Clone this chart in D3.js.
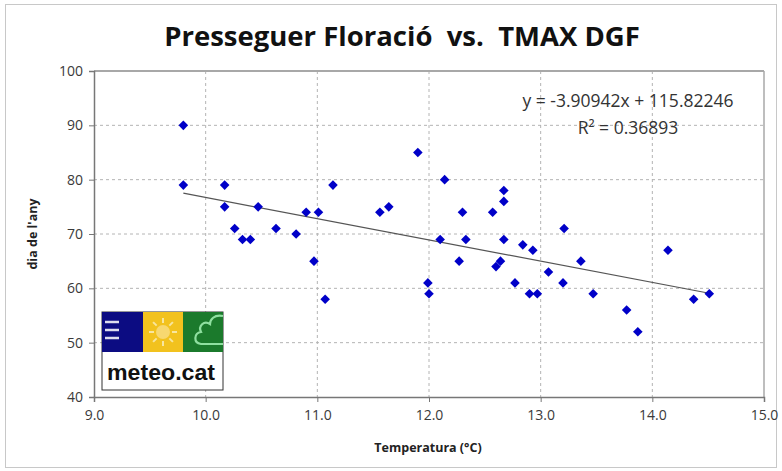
<!DOCTYPE html>
<html>
<head>
<meta charset="utf-8">
<script src="https://cdn.jsdelivr.net/npm/d3@7"></script>
<style>
body { margin: 0; background: #fff; }
text { font-family: "Open Sans", "Liberation Sans", sans-serif; }
</style>
</head>
<body>
<div id="chart"></div>
<script>
// temperatura (°C) i dia de l'any de floració
var temps = [9.80, 9.80, 10.17, 10.17, 10.47, 10.26, 10.33, 10.40, 10.63, 10.81,
    10.90, 11.01, 11.14, 10.97, 11.07, 11.90, 11.56, 11.64, 12.14, 12.67,
    12.67, 12.30, 12.57, 13.21, 12.10, 12.33, 12.67, 12.84, 12.93, 12.27,
    12.60, 12.64, 13.07, 12.77, 13.20, 11.99, 12.00, 12.90, 12.97, 13.36,
    13.47, 14.14, 13.77, 13.87, 14.37, 14.51];
var dies = [90, 79, 79, 75, 75, 71, 69, 69, 71, 70,
    74, 74, 79, 65, 58, 85, 74, 75, 80, 78,
    76, 74, 74, 71, 69, 69, 69, 68, 67, 65,
    64, 65, 63, 61, 61, 61, 59, 59, 59, 65,
    59, 67, 56, 52, 58, 59];
var xTicks = [9, 10, 11, 12, 13, 14, 15];
var yTicks = [40, 50, 60, 70, 80, 90, 100];
var slope = -3.90942, intercept = 115.82246, r2 = 0.36893;

function drawChart() {
    var width = 782, height = 471;
    var svg = d3.select("#chart").append("svg")
        .attr("width", width)
        .attr("height", height);

    svg.append("rect")
        .attr("x", 5.5).attr("y", 4.5)
        .attr("width", 771).attr("height", 463)
        .style("fill", "#fff").style("stroke", "#c8c8c8");

    var pl = 94, pr = 764, pt = 71, pb = 397;
    var x = d3.scaleLinear().domain([9, 15]).range([pl, pr]);
    var y = d3.scaleLinear().domain([40, 100]).range([pb, pt]);

    // grid
    svg.append("g").selectAll("line").data(xTicks.slice(1, -1)).enter().append("line")
        .attr("x1", function(d) { return x(d); }).attr("x2", function(d) { return x(d); })
        .attr("y1", pt).attr("y2", pb)
        .style("stroke", "#b4b4b4").style("stroke-dasharray", "3,3");
    svg.append("g").selectAll("line").data(yTicks.slice(1, -1)).enter().append("line")
        .attr("x1", pl).attr("x2", pr)
        .attr("y1", function(d) { return y(d); }).attr("y2", function(d) { return y(d); })
        .style("stroke", "#b4b4b4").style("stroke-dasharray", "3,3");

    // plot border
    svg.append("line").attr("x1", pl).attr("x2", pr).attr("y1", pt).attr("y2", pt)
        .style("stroke", "#a8a8a8").style("stroke-width", 2);
    svg.append("line").attr("x1", pr).attr("x2", pr).attr("y1", pt).attr("y2", pb)
        .style("stroke", "#a8a8a8").style("stroke-width", 1.5);

    // axes
    var xAxis = svg.append("g")
        .attr("transform", "translate(0," + pb + ")")
        .call(d3.axisBottom(x).tickValues(xTicks).tickFormat(d3.format(".1f")).tickSizeOuter(0).tickSize(5));
    var yAxis = svg.append("g")
        .attr("transform", "translate(" + pl + ",0)")
        .call(d3.axisLeft(y).tickValues(yTicks).tickSizeOuter(0).tickSize(5));
    [xAxis, yAxis].forEach(function(a) {
        a.select(".domain").style("stroke", "#777").style("stroke-width", 1.5);
        a.selectAll(".tick line").style("stroke", "#777");
        a.selectAll(".tick text").style("font-size", "14px").style("fill", "#3a3a3a")
            .style("font-family", "'Liberation Sans Narrow', 'Open Sans', sans-serif");
    });
    xAxis.selectAll(".tick text").attr("dy", "1.1em");
    yAxis.selectAll(".tick text").attr("x", -11);

    // trend line
    var tx = d3.extent(temps);
    svg.append("line")
        .attr("x1", x(tx[0])).attr("y1", y(slope * tx[0] + intercept))
        .attr("x2", x(tx[1])).attr("y2", y(slope * tx[1] + intercept))
        .style("stroke", "#555").style("stroke-width", 1.2);

    // points
    svg.append("g").selectAll("path").data(temps).enter().append("path")
        .attr("d", d3.symbol().type(d3.symbolSquare).size(46))
        .attr("transform", function(d, i) { return "translate(" + x(d) + "," + y(dies[i]) + ") rotate(45)"; })
        .style("fill", "#0000c8");

    // equation
    svg.append("text").attr("x", 628).attr("y", 107).attr("text-anchor", "middle")
        .style("font-size", "17.5px").style("fill", "#333")
        .text("y = " + slope.toFixed(5) + "x + " + intercept.toFixed(5));
    svg.append("text").attr("x", 628).attr("y", 134).attr("text-anchor", "middle")
        .style("font-size", "17.5px").style("fill", "#333")
        .text("R\u00b2 = " + r2.toFixed(5));

    // titles
    svg.append("text").attr("x", 402).attr("y", 46).attr("text-anchor", "middle")
        .style("font-size", "27.5px").style("font-weight", "bold").style("fill", "#111")
        .style("white-space", "pre")
        .text("Presseguer Floració  vs.  TMAX DGF");
    svg.append("text").attr("x", 428).attr("y", 452).attr("text-anchor", "middle")
        .style("font-size", "12.5px").style("font-weight", "bold").style("fill", "#222")
        .text("Temperatura (°C)");
    svg.append("text").attr("transform", "translate(37,234) rotate(-90)").attr("text-anchor", "middle")
        .style("font-size", "12.5px").style("font-weight", "bold").style("fill", "#222")
        .text("dia de l'any");

    // logo meteo.cat
    var logo = svg.append("g").attr("transform", "translate(102,312)");
    logo.append("rect").attr("width", 121).attr("height", 78).style("fill", "#fff").style("stroke", "#333");
    logo.append("rect").attr("width", 41).attr("height", 40).style("fill", "#0c0c82");
    logo.append("rect").attr("x", 41).attr("width", 40).attr("height", 40).style("fill", "#f2c21e");
    logo.append("rect").attr("x", 81).attr("width", 40).attr("height", 40).style("fill", "#1b7a2c");
    [10, 18, 26].forEach(function(d) {
        logo.append("line").attr("x1", 3).attr("x2", 17).attr("y1", d).attr("y2", d)
            .style("stroke", "#dde").style("stroke-width", 2.5);
    });
    logo.append("circle").attr("cx", 61).attr("cy", 20).attr("r", 7).style("fill", "#f7d870");
    d3.range(8).forEach(function(i) {
        var a = i * Math.PI / 4;
        logo.append("line")
            .attr("x1", 61 + Math.cos(a) * 9).attr("y1", 20 + Math.sin(a) * 9)
            .attr("x2", 61 + Math.cos(a) * 14).attr("y2", 20 + Math.sin(a) * 14)
            .style("stroke", "#f7e6a0").style("stroke-width", 2);
    });
    logo.append("path")
        .attr("d", "M121,4 C112,2 108,8 108,12 C102,8 96,14 99,20 C92,21 91,31 99,32 L121,32")
        .style("fill", "none").style("stroke", "#8fe0a0").style("stroke-width", 2.2);
    logo.append("text").attr("x", 5).attr("y", 68)
        .attr("textLength", 108).attr("lengthAdjust", "spacingAndGlyphs")
        .style("font-size", "22px").style("font-weight", "bold").style("fill", "#111")
        .style("font-family", "'Liberation Sans', sans-serif")
        .text("meteo.cat");
}
drawChart();
</script>
</body>
</html>
